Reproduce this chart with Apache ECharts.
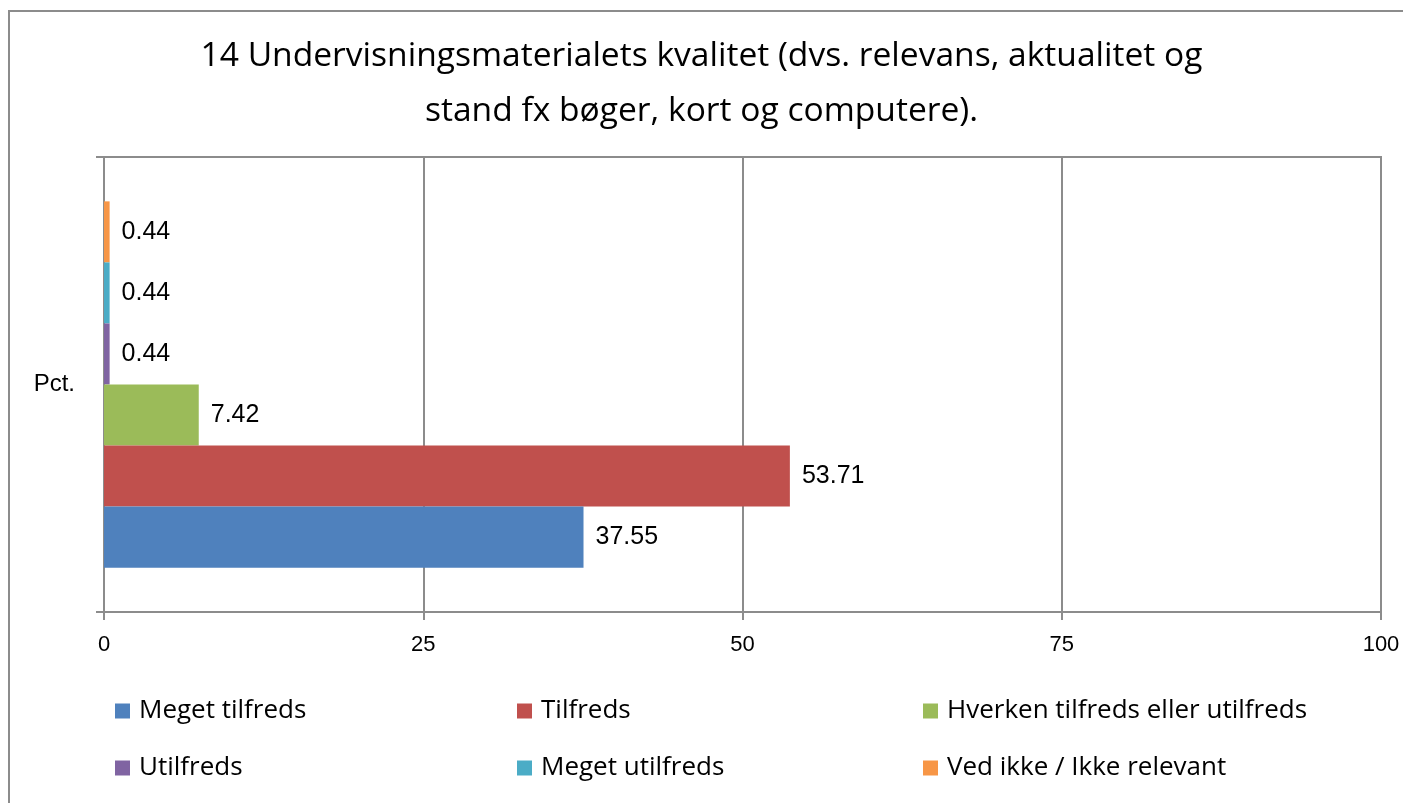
<!DOCTYPE html>
<html>
<head>
<meta charset="utf-8">
<script src="https://cdn.jsdelivr.net/npm/echarts@6/dist/echarts.min.js"></script>
<style>
    html, body { margin: 0; padding: 0; background: #fff; }
    #chart { width: 1403px; height: 803px; }
</style>
</head>
<body>
<div id="chart"></div>
<script>
// data
const categories = ['Pct.'];
const seriesNames = [
    'Meget tilfreds',
    'Tilfreds',
    'Hverken tilfreds eller utilfreds',
    'Utilfreds',
    'Meget utilfreds',
    'Ved ikke / Ikke relevant'
];
const seriesValues = [37.55, 53.71, 7.42, 0.44, 0.44, 0.44];
const seriesColors = ['#4F81BD', '#C0504D', '#9BBB59', '#8064A2', '#4BACC6', '#F79646'];
const xTicks = [0, 25, 50, 75, 100];

const gray = '#8c8c8c';
const chart = echarts.init(document.getElementById('chart'));

// legend: one component per entry, three columns, two rows
const legendCols = [110, 512, 918];
const legendRows = [693, 750];
const legends = seriesNames.map((name, i) => ({
    orient: 'horizontal',
    left: legendCols[i % 3],
    top: legendRows[Math.floor(i / 3)],
    itemWidth: 15,
    itemHeight: 15,
    icon: 'rect',
    data: [name],
    textStyle: {
        fontFamily: 'Open Sans',
        fontSize: 26,
        color: '#000',
        padding: [0, 0, 0, 4]
    }
}));

// bars: first series should sit at the bottom, so add them in reverse
const barSeries = seriesNames.map((name, i) => ({
    name: name,
    type: 'bar',
    data: [seriesValues[i]],
    barGap: '0%',
    barCategoryGap: '19.5%',
    itemStyle: { color: seriesColors[i] },
    label: {
        show: true,
        position: 'right',
        distance: 12,
        fontFamily: 'Liberation Sans',
        fontSize: 25,
        color: '#000'
    }
})).reverse();

const option = {
    backgroundColor: '#fff',
    animation: false,
    title: {
        text: '14 Undervisningsmaterialets kvalitet (dvs. relevans, aktualitet og\nstand fx bøger, kort og computere).',
        left: 'center',
        top: 24,
        textStyle: {
            fontFamily: 'Open Sans',
            fontSize: 33.6,
            fontWeight: 'normal',
            color: '#000',
            lineHeight: 55
        }
    },
    graphic: [{
        type: 'rect',
        shape: { x: 9, y: 11, width: 1420, height: 820 },
        style: { fill: 'none', stroke: gray, lineWidth: 2 },
        silent: true
    }],
    legend: legends,
    grid: {
        left: 104,
        right: 22,
        top: 157,
        bottom: 191,
        show: true,
        borderColor: gray,
        borderWidth: 2
    },
    xAxis: {
        type: 'value',
        min: xTicks[0],
        max: xTicks[xTicks.length - 1],
        interval: 25,
        axisLine: { show: true, lineStyle: { color: gray, width: 2 } },
        axisTick: { show: true, length: 8, lineStyle: { color: gray, width: 2 } },
        axisLabel: {
            margin: 22,
            fontFamily: 'Liberation Sans',
            fontSize: 22,
            color: '#000'
        },
        splitLine: { show: true, lineStyle: { color: gray, width: 2 } }
    },
    yAxis: {
        type: 'category',
        data: categories,
        axisLine: { show: true, lineStyle: { color: gray, width: 2 } },
        axisTick: { show: true, length: 8, lineStyle: { color: gray, width: 2 } },
        axisLabel: {
            margin: 29,
            fontFamily: 'Liberation Sans',
            fontSize: 24,
            color: '#000'
        }
    },
    series: barSeries
};

chart.setOption(option);
</script>
</body>
</html>
